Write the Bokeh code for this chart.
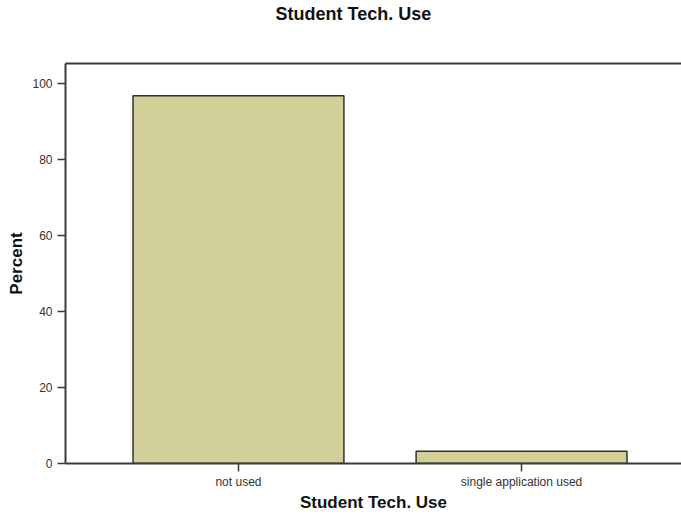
from bokeh.plotting import figure
from bokeh.models import Range1d, FixedTicker, LinearAxis, ColumnDataSource, Title
from bokeh.embed import file_html
from bokeh.resources import INLINE

categories = ["not used", "single application used"]
percents = [96.8, 3.2]
y_ticks = [0, 20, 40, 60, 80, 100]
title_text = "Student Tech. Use"

xs = list(range(len(categories)))
src = ColumnDataSource(dict(x=xs, top=percents, cat=categories))

FONT = "Liberation Sans"
AXIS_COLOR = "#3a3a3a"

p = figure(width=681, height=514, output_backend="svg", toolbar_location=None,
           x_range=Range1d(-0.611, 1.565), y_range=Range1d(0, 105.3),
           min_border_left=65, min_border_right=0, min_border_top=63, min_border_bottom=51,
           outline_line_color=None, background_fill_color="white")

p.vbar(x="x", top="top", width=0.745, source=src, fill_color="#d2cf99",
       line_color="#333333", line_width=1.5)

p.xgrid.visible = False
p.ygrid.visible = False

# x axis
xa = p.xaxis[0]
xa.ticker = FixedTicker(ticks=xs)
xa.major_label_overrides = {i: c for i, c in zip(xs, categories)}
xa.axis_label = "Student Tech. Use"
xa.axis_label_text_font = FONT
xa.axis_label_text_font_style = "bold"
xa.axis_label_text_font_size = "17px"
xa.axis_label_text_color = "#111111"
xa.axis_label_standoff = 1
xa.major_label_text_font = FONT
xa.major_label_text_font_size = "12px"
xa.major_label_text_color = "#333333"
xa.major_label_standoff = 3
xa.major_tick_in = 0
xa.major_tick_out = 8
xa.minor_tick_out = 0
xa.minor_tick_in = 0
xa.axis_line_color = AXIS_COLOR
xa.axis_line_width = 2
xa.major_tick_line_color = AXIS_COLOR
xa.major_tick_line_width = 1.5

# y axis
ya = p.yaxis[0]
ya.ticker = FixedTicker(ticks=y_ticks)
ya.axis_label = "Percent"
ya.axis_label_text_font = FONT
ya.axis_label_text_font_style = "bold"
ya.axis_label_text_font_size = "17px"
ya.axis_label_text_color = "#111111"
ya.axis_label_standoff = 3
ya.major_label_text_font = FONT
ya.major_label_text_font_size = "12px"
ya.major_label_text_color = "#333333"
ya.major_label_standoff = 5
ya.major_tick_in = 0
ya.major_tick_out = 8
ya.minor_tick_out = 0
ya.minor_tick_in = 0
ya.axis_line_color = AXIS_COLOR
ya.axis_line_width = 2
ya.major_tick_line_color = AXIS_COLOR
ya.major_tick_line_width = 1.5

# top border line
top_axis = LinearAxis(ticker=FixedTicker(ticks=[]), major_label_text_font_size="0px",
                      major_tick_out=0, major_tick_in=0, minor_tick_out=0, minor_tick_in=0,
                      axis_line_color=AXIS_COLOR, axis_line_width=2)
p.add_layout(top_axis, "above")

# spacer between the top border and the title
spacer = Title(text=" ", text_font=FONT, text_font_size="34px", standoff=0)
p.add_layout(spacer, "above")

p.title = Title(text=title_text, align="left", offset=210, standoff=0,
                text_font=FONT, text_font_style="bold", text_font_size="18px",
                text_color="#111111")

open("out.html", "w").write(file_html(p, INLINE))
